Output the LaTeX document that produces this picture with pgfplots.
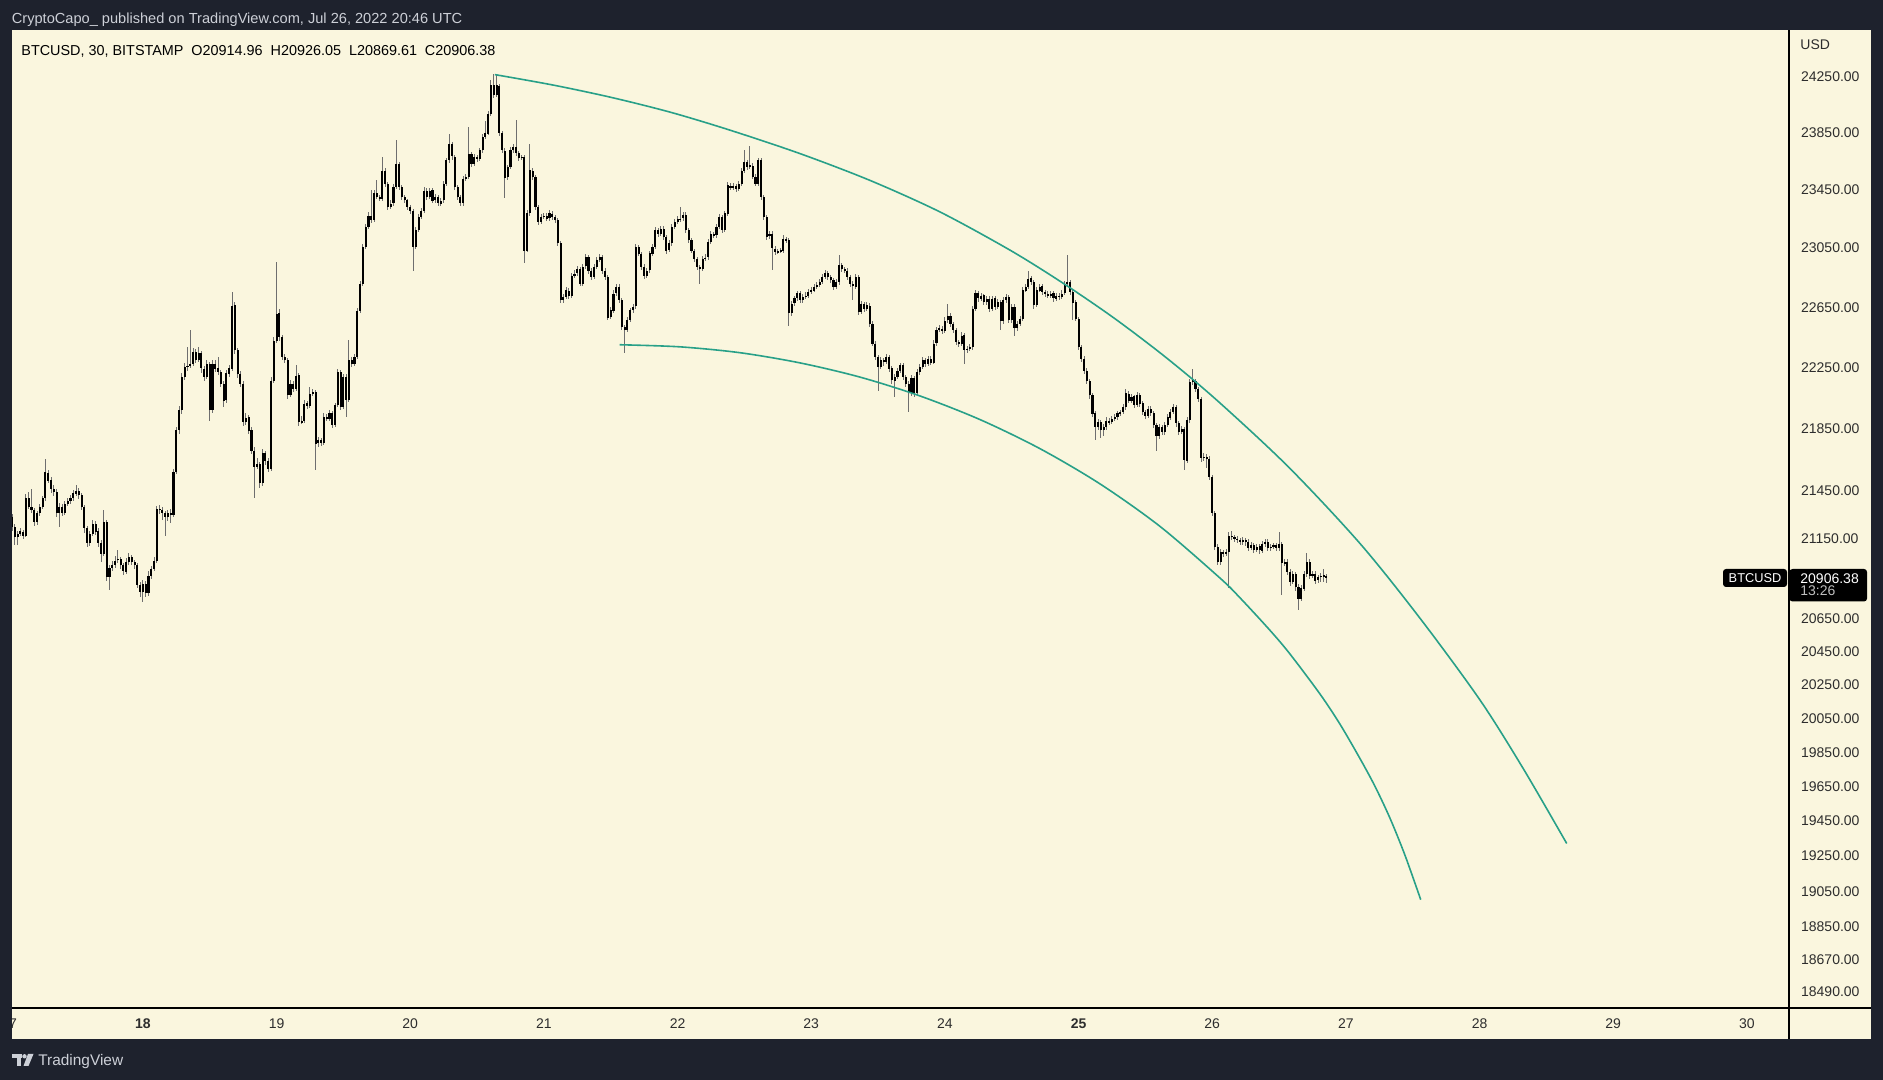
\documentclass[border=0pt]{standalone}
\usepackage{fontspec}
\setmainfont{Liberation Sans}
\usepackage{pgfplots}
\usepackage{pgfplotstable}
\pgfplotsset{compat=1.18}
\definecolor{frame}{RGB}{30,34,45}
\definecolor{paper}{RGB}{250,246,222}
\definecolor{arccol}{RGB}{40,160,136}
\definecolor{wick}{RGB}{110,110,110}
\definecolor{hdr}{RGB}{205,208,215}
\definecolor{lbl}{RGB}{45,45,45}
\newcommand{\tk}{\fontsize{7pt}{8pt}\selectfont}

\pgfplotstableread{
i p
174.37 24267
195.49 24191
216.61 24102
237.72 23996
258.84 23871
283.98 23705
309.11 23518
334.25 23299
359.39 23037
377.96 22818
396.51 22581
415.06 22321
433.62 22036
459.35 21604
485.08 21119
506.63 20656
528.18 20161
543.74 19758
559.31 19323
}\upperarc

\pgfplotstableread{
i p
219.23 22400
240.88 22386
262.43 22347
283.98 22280
305.52 22186
327.07 22063
348.62 21909
370.16 21721
391.71 21495
413.26 21226
434.81 20903
441.99 20781
452.76 20582
459.94 20438
470.72 20197
477.90 20017
485.08 19818
490.47 19653
495.86 19469
501.24 19258
506.88 19003
}\lowerarc

\pgfplotstableread{
i o h l c
0 21265 21300 21240 21285
1 21285 21305 21200 21225
2 21225 21240 21110 21160
3 21160 21200 21110 21180
4 21180 21215 21165 21195
5 21195 21210 21150 21170
6 21170 21430 21160 21405
7 21405 21445 21335 21350
8 21350 21460 21310 21330
9 21330 21345 21230 21255
10 21255 21325 21240 21310
11 21310 21365 21295 21350
12 21350 21420 21340 21405
13 21405 21655 21390 21570
14 21570 21585 21505 21520
15 21520 21540 21440 21465
16 21465 21490 21420 21445
17 21445 21460 21285 21310
18 21310 21375 21225 21350
19 21350 21365 21290 21310
20 21310 21390 21300 21370
21 21370 21410 21355 21385
22 21385 21430 21370 21405
23 21405 21460 21390 21435
24 21435 21490 21420 21455
25 21455 21470 21400 21425
26 21425 21440 21335 21350
27 21350 21365 21190 21215
28 21215 21230 21095 21120
29 21120 21200 21105 21180
30 21180 21270 21165 21245
31 21245 21260 21175 21195
32 21195 21215 21100 21120
33 21120 21140 21005 21055
34 21055 21330 21040 21255
35 21255 21270 20890 20910
36 20910 20990 20830 20965
37 20965 21010 20950 20985
38 20985 21040 20970 21015
39 21015 21080 21000 21025
40 21025 21040 20960 20985
41 20985 21000 20925 20945
42 20945 21030 20930 21005
43 21005 21060 20990 21035
44 21035 21050 20985 21005
45 21005 21020 20960 20985
46 20985 20995 20840 20860
47 20860 20880 20790 20820
48 20820 20895 20755 20870
49 20870 20885 20785 20810
50 20810 20945 20795 20920
51 20920 20985 20900 20965
52 20965 21035 20950 21015
53 21015 21360 21000 21340
54 21340 21365 21305 21330
55 21330 21350 21270 21310
56 21310 21325 21170 21285
57 21285 21330 21260 21310
58 21310 21335 21250 21300
59 21300 21590 21285 21570
60 21570 21860 21555 21840
61 21840 22000 21820 21970
62 21970 22215 21950 22190
63 22190 22280 22170 22255
64 22255 22385 22230 22265
65 22265 22500 22250 22275
66 22275 22380 22260 22355
67 22355 22375 22280 22300
68 22300 22390 22285 22345
69 22345 22360 22220 22245
70 22245 22260 22160 22190
71 22190 22300 22175 22275
72 22275 22290 21905 21970
73 21970 22300 21955 22275
74 22275 22300 22225 22245
75 22245 22320 22200 22220
76 22220 22235 22120 22145
77 22145 22160 21990 22035
78 22035 22230 22015 22210
79 22210 22265 22190 22245
80 22245 22755 22230 22665
81 22665 22690 22340 22365
82 22365 22380 22185 22210
83 22210 22230 22120 22145
84 22145 22160 21870 21895
85 21895 21950 21875 21925
86 21925 21940 21815 21840
87 21840 21860 21690 21710
88 21710 21730 21405 21605
89 21605 21660 21590 21625
90 21625 21640 21470 21500
91 21500 21720 21485 21690
92 21690 21705 21620 21645
93 21645 21660 21570 21595
94 21595 22190 21580 22165
95 22165 22450 22150 22430
96 22430 22955 22415 22610
97 22610 22640 22430 22455
98 22455 22470 22300 22320
99 22320 22340 22280 22300
100 22300 22315 22045 22070
101 22070 22165 22055 22145
102 22145 22160 22090 22110
103 22110 22265 22095 22200
104 22200 22215 21870 21895
105 21895 21930 21880 21905
106 21905 22040 21890 22015
107 22015 22030 21980 22000
108 22000 22125 21985 22080
109 22080 22110 22065 22090
110 22090 22105 21585 21755
111 21755 21800 21735 21775
112 21775 21790 21740 21760
113 21760 21950 21745 21925
114 21925 21945 21900 21915
115 21915 21970 21900 21950
116 21950 21965 21855 21875
117 21875 22020 21860 22005
118 22005 22240 21990 22220
119 22220 22235 21970 21990
120 21990 22210 21975 22190
121 22190 22205 21925 22035
122 22035 22430 22020 22300
123 22300 22320 22255 22275
124 22275 22340 22260 22320
125 22320 22650 22305 22630
126 22630 22830 22615 22810
127 22810 23080 22795 23060
128 23060 23215 23045 23195
129 23195 23300 23180 23275
130 23275 23450 23225 23245
131 23245 23450 23230 23430
132 23430 23520 23390 23405
133 23405 23420 23375 23395
134 23395 23685 23380 23590
135 23590 23605 23475 23495
136 23495 23510 23315 23335
137 23335 23380 23320 23360
138 23360 23495 23345 23475
139 23475 23800 23460 23635
140 23635 23650 23455 23475
141 23475 23490 23385 23405
142 23405 23420 23360 23380
143 23380 23395 23315 23335
144 23335 23350 23290 23310
145 23310 23325 22900 23060
146 23060 23195 23045 23175
147 23175 23285 23160 23265
148 23265 23330 23250 23310
149 23310 23470 23295 23450
150 23450 23465 23385 23405
151 23405 23470 23390 23450
152 23450 23465 23360 23380
153 23380 23425 23365 23405
154 23405 23420 23340 23360
155 23360 23400 23345 23380
156 23380 23515 23365 23495
157 23495 23680 23480 23660
158 23660 23850 23645 23775
159 23775 23790 23665 23685
160 23685 23700 23455 23475
161 23475 23490 23385 23405
162 23405 23420 23340 23360
163 23360 23550 23345 23530
164 23530 23565 23515 23545
165 23545 23895 23530 23705
166 23705 23720 23615 23635
167 23635 23705 23620 23685
168 23685 23700 23650 23670
169 23670 23750 23655 23730
170 23730 23845 23715 23825
171 23825 23940 23810 23850
172 23850 24005 23835 23985
173 23985 24230 23970 24190
174 24190 24275 24100 24120
175 24120 24265 24105 24190
176 24190 24200 23830 23850
177 23850 23865 23710 23730
178 23730 23745 23400 23540
179 23540 23630 23525 23610
180 23610 23750 23595 23730
181 23730 23775 23715 23755
182 23755 23940 23690 23710
183 23710 23725 23655 23675
184 23675 23700 23660 23685
185 23685 23700 22950 23035
186 23035 23310 23020 23290
187 23290 23775 23275 23590
188 23590 23605 23525 23545
189 23545 23560 23315 23335
190 23335 23350 23210 23230
191 23230 23285 23215 23265
192 23265 23295 23250 23275
193 23275 23290 23235 23255
194 23255 23310 23240 23290
195 23290 23305 23245 23265
196 23265 23280 23225 23245
197 23245 23260 23065 23085
198 23085 23100 22680 22700
199 22700 22740 22685 22720
200 22720 22785 22705 22765
201 22765 22780 22710 22730
202 22730 22885 22715 22865
203 22865 22900 22850 22880
204 22880 22930 22865 22910
205 22910 22925 22790 22810
206 22810 22945 22795 22925
207 22925 23010 22910 22990
208 22990 23005 22880 22900
209 22900 22915 22835 22855
210 22855 22945 22840 22925
211 22925 22990 22910 22970
212 22970 23010 22955 22990
213 22990 23005 22880 22900
214 22900 22915 22835 22855
215 22855 22870 22565 22585
216 22585 22650 22570 22630
217 22630 22765 22615 22745
218 22745 22810 22730 22790
219 22790 22805 22680 22700
220 22700 22715 22500 22520
221 22520 22535 22345 22500
222 22500 22585 22485 22565
223 22565 22650 22550 22630
224 22630 22675 22615 22655
225 22655 23080 22640 23060
226 23060 23075 22995 23015
227 23015 23030 22905 22925
228 22925 22940 22845 22865
229 22865 22920 22850 22900
230 22900 23035 22885 23015
231 23015 23080 23000 23060
232 23060 23195 23045 23175
233 23175 23190 23130 23150
234 23150 23205 23135 23185
235 23185 23200 23110 23130
236 23130 23145 23015 23035
237 23035 23105 23020 23085
238 23085 23215 23070 23195
239 23195 23250 23180 23230
240 23230 23270 23215 23250
241 23250 23335 23235 23255
242 23255 23300 23240 23280
243 23280 23295 23155 23175
244 23175 23190 23085 23105
245 23105 23120 23015 23035
246 23035 23050 22960 22980
247 22980 22995 22905 22925
248 22925 22940 22810 22910
249 22910 23000 22895 22980
250 22980 23010 22965 22990
251 22990 23115 22975 23095
252 23095 23170 23080 23150
253 23150 23165 23120 23140
254 23140 23215 23125 23195
255 23195 23285 23180 23265
256 23265 23280 23155 23175
257 23175 23310 23160 23290
258 23290 23505 23275 23485
259 23485 23500 23455 23470
260 23470 23500 23455 23480
261 23480 23495 23440 23460
262 23460 23515 23445 23495
263 23495 23610 23480 23590
264 23590 23730 23575 23650
265 23650 23665 23595 23615
266 23615 23765 23600 23625
267 23625 23640 23525 23545
268 23545 23560 23475 23495
269 23495 23680 23480 23660
270 23660 23675 23385 23405
271 23405 23420 23245 23265
272 23265 23280 23110 23130
273 23130 23170 23115 23150
274 23150 23165 22900 23050
275 23050 23065 23005 23025
276 23025 23050 23010 23030
277 23030 23055 23015 23035
278 23035 23140 23020 23115
279 23115 23130 23085 23105
280 23105 23120 22530 22610
281 22610 22695 22595 22675
282 22675 22730 22660 22710
283 22710 22765 22695 22745
284 22745 22760 22680 22700
285 22700 22740 22685 22720
286 22720 22750 22705 22730
287 22730 22775 22715 22755
288 22755 22785 22740 22765
289 22765 22810 22750 22790
290 22790 22820 22775 22800
291 22800 22840 22785 22820
292 22820 22875 22805 22855
293 22855 22900 22840 22880
294 22880 22895 22835 22855
295 22855 22870 22815 22835
296 22835 22850 22770 22790
297 22790 22840 22775 22820
298 22820 23005 22805 22935
299 22935 22950 22890 22910
300 22910 22925 22880 22900
301 22900 22915 22835 22855
302 22855 22870 22790 22810
303 22810 22825 22700 22790
304 22790 22875 22775 22855
305 22855 22870 22600 22620
306 22620 22695 22605 22675
307 22675 22690 22620 22640
308 22640 22685 22625 22665
309 22665 22680 22520 22540
310 22540 22555 22390 22410
311 22410 22425 22300 22320
312 22320 22335 22100 22255
313 22255 22320 22240 22300
314 22300 22315 22265 22285
315 22285 22340 22270 22320
316 22320 22335 22225 22245
317 22245 22260 22145 22165
318 22165 22210 22060 22190
319 22190 22250 22175 22230
320 22230 22285 22215 22265
321 22265 22280 22170 22190
322 22190 22205 22125 22145
323 22145 22160 21960 22080
324 22080 22200 22065 22180
325 22180 22195 22060 22080
326 22080 22240 22065 22220
327 22220 22275 22205 22255
328 22255 22320 22240 22300
329 22300 22315 22255 22275
330 22275 22330 22260 22310
331 22310 22325 22265 22285
332 22285 22430 22270 22410
333 22410 22520 22395 22500
334 22500 22530 22485 22510
335 22510 22525 22475 22495
336 22495 22585 22480 22565
337 22565 22675 22550 22595
338 22595 22610 22520 22540
339 22540 22555 22480 22500
340 22500 22515 22400 22420
341 22420 22435 22390 22410
342 22410 22485 22395 22465
343 22465 22480 22275 22365
344 22365 22395 22350 22375
345 22375 22405 22360 22385
346 22385 22660 22370 22640
347 22640 22765 22625 22745
348 22745 22760 22690 22710
349 22710 22750 22695 22730
350 22730 22745 22665 22685
351 22685 22730 22670 22710
352 22710 22725 22620 22640
353 22640 22730 22625 22710
354 22710 22725 22635 22655
355 22655 22705 22640 22685
356 22685 22700 22500 22555
357 22555 22720 22540 22700
358 22700 22740 22685 22720
359 22720 22735 22545 22565
360 22565 22675 22550 22655
361 22655 22670 22455 22510
362 22510 22560 22495 22540
363 22540 22595 22525 22575
364 22575 22785 22560 22765
365 22765 22810 22750 22790
366 22790 22900 22775 22845
367 22845 22860 22800 22820
368 22820 22835 22640 22665
369 22665 22785 22650 22765
370 22765 22810 22750 22790
371 22790 22805 22735 22755
372 22755 22770 22725 22745
373 22745 22760 22710 22730
374 22730 22765 22715 22745
375 22745 22760 22690 22710
376 22710 22750 22695 22730
377 22730 22745 22700 22720
378 22720 22765 22705 22745
379 22745 22830 22730 22810
380 22810 23005 22795 22820
381 22820 22835 22735 22755
382 22755 22770 22565 22685
383 22685 22700 22555 22575
384 22575 22590 22365 22385
385 22385 22400 22290 22310
386 22310 22325 22210 22230
387 22230 22245 22145 22165
388 22165 22180 22050 22070
389 22070 22085 21930 21950
390 21950 21965 21775 21860
391 21860 21915 21845 21895
392 21895 21910 21790 21840
393 21840 21880 21800 21860
394 21860 21925 21845 21905
395 21905 21920 21875 21895
396 21895 21935 21880 21915
397 21915 21945 21900 21925
398 21925 21970 21910 21950
399 21950 21975 21935 21960
400 21960 22010 21945 21990
401 21990 22110 21975 22080
402 22080 22095 22015 22035
403 22035 22080 22020 22060
404 22060 22075 21985 22005
405 22005 22090 21990 22070
406 22070 22085 21995 22015
407 22015 22030 21940 21960
408 21960 21975 21915 21935
409 21935 22000 21920 21980
410 21980 21995 21930 21950
411 21950 21965 21855 21875
412 21875 21890 21710 21800
413 21800 21880 21785 21860
414 21860 21875 21810 21830
415 21830 21895 21815 21875
416 21875 21945 21860 21925
417 21925 21980 21910 21960
418 21960 22015 21945 21990
419 21990 22005 21865 21885
420 21885 21900 21810 21830
421 21830 21870 21815 21850
422 21850 21865 21585 21645
423 21645 21925 21630 21905
424 21905 22175 21890 22155
425 22155 22245 22140 22165
426 22165 22180 22090 22110
427 22110 22125 22025 22045
428 22045 22060 21640 21660
429 21660 21690 21645 21670
430 21670 21685 21600 21655
431 21655 21670 21520 21540
432 21540 21555 21290 21310
433 21310 21325 21080 21100
434 21100 21115 20985 21005
435 21005 21085 20990 21065
436 21065 21080 21035 21055
437 21055 21085 21040 21065
438 21065 21190 20840 21170
439 21170 21200 21145 21160
440 21160 21175 21130 21150
441 21150 21165 21120 21140
442 21140 21155 21110 21130
443 21130 21160 21115 21140
444 21140 21155 21105 21130
445 21130 21145 21070 21090
446 21090 21125 21075 21110
447 21110 21125 21060 21080
448 21080 21115 21065 21100
449 21100 21115 21055 21075
450 21075 21135 21060 21115
451 21115 21150 21100 21130
452 21130 21145 21070 21090
453 21090 21115 21075 21100
454 21100 21125 21085 21110
455 21110 21125 21070 21090
456 21090 21190 21075 21115
457 21115 21130 20800 20995
458 20995 21025 20980 21005
459 21005 21020 20925 20945
460 20945 20960 20860 20880
461 20880 20950 20865 20930
462 20930 20945 20830 20850
463 20850 20865 20705 20775
464 20775 20860 20760 20840
465 20840 20950 20825 20930
466 20930 21065 20915 21005
467 21005 21020 20900 20920
468 20920 20950 20905 20930
469 20930 20945 20870 20890
470 20890 20925 20875 20910
471 20910 20935 20880 20920
472 20920 20960 20885 20915
473 20914.96 20926.05 20869.61 20906.38
}\candles

\begin{document}
\begin{tikzpicture}
\fill[frame] (0,0) rectangle (941.5pt,540pt);
\begin{scope}[x=0.5pt,y=-0.5pt,yshift=540pt]
\fill[paper] (12,30) rectangle (1871,1039);
\end{scope}
\begin{axis}[
  at={(6pt,36pt)}, anchor=south west, scale only axis,
  width=888.5pt, height=489pt,
  xmin=0.99, xmax=639.14,
  ymin=9.820208, ymax=10.110071,
  axis x line*=bottom, axis y line*=right,
  axis line style={black, line width=0.55pt},
  xtick={48,96,144,192,240,288,336,384,432,480,528,576,624},
  xticklabels={\textbf{18},19,20,21,22,23,24,\textbf{25},26,27,28,29,30},
  ytick={9.824984,9.834672,9.844267,9.854821,9.865265,9.875601,9.885832,9.895958,9.905984,9.915910,9.925737,9.935469,9.959395,9.973480,9.991956,10.010097,10.027914,10.045420,10.062625,10.079539,10.096171},
  yticklabels={18490.00,18670.00,18850.00,19050.00,19250.00,19450.00,19650.00,19850.00,20050.00,20250.00,20450.00,20650.00,21150.00,21450.00,21850.00,22250.00,22650.00,23050.00,23450.00,23850.00,24250.00},
  major tick length=0pt, minor tick num=0,
  tick label style={font=\tk, text=lbl},
  yticklabel style={anchor=west, inner sep=0pt, xshift=5.85pt},
  xticklabel style={anchor=base, inner sep=0pt, yshift=-10.15pt},
  clip=true,
]
% wicks
\addplot[draw=none, mark=none, forget plot,
  error bars/.cd, y dir=both, y explicit, error mark=none,
  error bar style={draw=wick, line width=0.5pt}]
  table[x=i, y expr={(ln(\thisrow{h})+ln(\thisrow{l}))/2}, y error expr={(ln(\thisrow{h})-ln(\thisrow{l}))/2}] {\candles};
% bodies
\addplot[draw=none, mark=none, forget plot,
  error bars/.cd, y dir=both, y explicit, error mark=none,
  error bar style={draw=black, line width=1.05pt}]
  table[x=i, y expr={(ln(\thisrow{o})+ln(\thisrow{c}))/2}, y error expr={max(abs(ln(\thisrow{c})-ln(\thisrow{o}))/2,0.00012)}] {\candles};
% arcs
\addplot[arccol, line width=0.8pt, smooth, tension=0.5, mark=none, forget plot]
  table[x=i, y expr={ln(\thisrow{p})}] {\upperarc};
\addplot[arccol, line width=0.8pt, smooth, tension=0.5, mark=none, forget plot]
  table[x=i, y expr={ln(\thisrow{p})}] {\lowerarc};
\end{axis}
\begin{scope}[x=0.5pt,y=-0.5pt,yshift=540pt]
\draw[black, line width=0.55pt] (1789,1008) -- (1789,1039);
\draw[black, line width=0.55pt] (1789,1008) -- (1871,1008);
\node[font=\tk, text=lbl, anchor=base, inner sep=0pt] at (9.24,1028.3) {17};
\fill[frame] (0,30) rectangle (12,1039);
\node[anchor=base west, inner sep=0pt, text=hdr, font=\fontsize{7.3pt}{8pt}\selectfont] at (11.5,23.5) {CryptoCapo\_ published on TradingView.com, Jul 26, 2022 20:46 UTC};
\node[anchor=base west, inner sep=0pt, text=black, font=\fontsize{7.2pt}{8pt}\selectfont] at (21,55.5) {BTCUSD, 30, BITSTAMP\hspace{0.55em}O20914.96\hspace{0.55em}H20926.05\hspace{0.55em}L20869.61\hspace{0.55em}C20906.38};
\node[anchor=base west, inner sep=0pt, text=lbl, font=\tk] at (1800,50) {USD};
\fill[black, rounded corners=1.5pt] (1789.5,569) rectangle (1867,601.5);
\node[anchor=base west, inner sep=0pt, text=white, font=\tk] at (1800,583.3) {20906.38};
\node[anchor=base west, inner sep=0pt, text={rgb,255:red,190;green,190;blue,190}, font=\tk] at (1800,596) {13:26};
\fill[black, rounded corners=1.5pt] (1723,569) rectangle (1787,587);
\node[inner sep=0pt, text=white, font=\fontsize{6.4pt}{7pt}\selectfont] at (1755,578) {BTCUSD};
\fill[hdr] (12,1054) rectangle (22,1058.5);
\fill[hdr] (16.5,1054) rectangle (21,1066);
\fill[hdr] (24.5,1056.3) circle (2.2);
\fill[hdr] (28,1054) -- (33.5,1054) -- (28.5,1066) -- (23.5,1066) -- cycle;
\node[anchor=base west, inner sep=0pt, text=hdr, font=\fontsize{7.7pt}{9pt}\selectfont] at (38,1066) {TradingView};
\end{scope}
\end{tikzpicture}
\end{document}
